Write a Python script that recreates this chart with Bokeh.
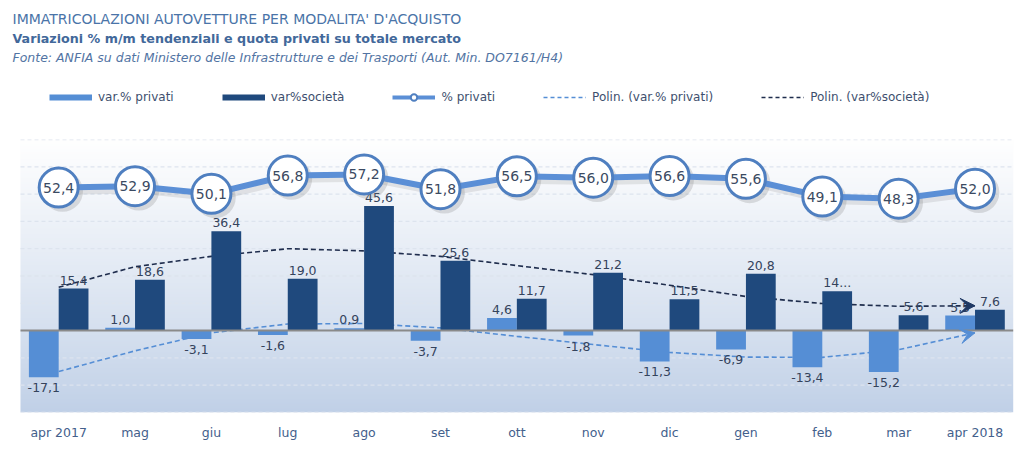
import numpy as np
from bokeh.plotting import figure
from bokeh.layouts import column
from bokeh.models import (ColumnDataSource, Range1d, FixedTicker, Label, Legend,
                          LegendItem, Arrow, VeeHead)
from bokeh.transform import dodge
from bokeh.core.properties import value
from bokeh.embed import file_html
from bokeh.resources import INLINE

# ---------------- data ----------------
categories = ["apr 2017", "mag", "giu", "lug", "ago", "set", "ott",
              "nov", "dic", "gen", "feb", "mar", "apr 2018"]
var_privati = [-17.1, 1.0, -3.1, -1.6, 0.9, -3.7, 4.6, -1.8, -11.3, -6.9, -13.4, -15.2, 5.5]
var_societa = [15.4, 18.6, 36.4, 19.0, 45.6, 25.6, 11.7, 21.2, 11.5, 20.8, 14.4, 5.6, 7.6]
quota_privati = [52.4, 52.9, 50.1, 56.8, 57.2, 51.8, 56.5, 56.0, 56.6, 55.6, 49.1, 48.3, 52.0]
# polynomial trend lines
trend_privati = [-15.0, -7.4, -0.8, 2.4, 2.6, 1.0, -2.1, -5.1, -8.0, -9.7, -9.8, -7.0, -0.8]
trend_societa = [15.9, 23.4, 27.2, 30.0, 29.2, 27.2, 23.8, 20.5, 16.6, 12.5, 9.9, 8.9, 9.1]
grid_values = [-30, -20, -10, 10, 20, 30, 40, 50, 60, 70]

title_txt = "IMMATRICOLAZIONI AUTOVETTURE PER MODALITA' D'ACQUISTO"
subtitle_txt = "Variazioni % m/m tendenziali e quota privati su totale mercato"
source_txt = "Fonte: ANFIA su dati Ministero delle Infrastrutture e dei Trasporti (Aut. Min. DO7161/H4)"
legend_labels = ["var.% privati", "var%società", "% privati",
                 "Polin. (var.% privati)", "Polin. (var%società)"]


def fmt(v):
    return f"{v:.1f}".replace(".", ",")


idx = list(range(len(categories)))
n = len(categories)
societa_labels = [fmt(v) for v in var_societa]
societa_labels[10] = "14..."
quota_labels = [fmt(v) for v in quota_privati]

C_LIGHT = "#558ED5"
C_DARK = "#1F497D"
C_TREND_DARK = "#1f2d4d"
C_LINE = "#5b8fd6"
C_RING = "#4f7fc0"
C_TEXT = "#34435c"
FONT = "DejaVu Sans"

W = 1015
HEAD_H = 139
PLOT_LEFT, PLOT_RIGHT = 20.0, 1012.7       # pixel extent of the category area
step = (PLOT_RIGHT - PLOT_LEFT) / n
x_lo = -0.5 - PLOT_LEFT / step
x_hi = n - 0.5 + (W - PLOT_RIGHT) / step

# ---------------- header (titles + legend) ----------------
head = figure(width=W, height=HEAD_H, x_range=Range1d(0, W), y_range=Range1d(HEAD_H, 0),
              output_backend="svg", toolbar_location=None,
              x_axis_location=None, y_axis_location=None,
              min_border_left=0, min_border_right=0, min_border_top=0, min_border_bottom=0)
head.outline_line_color = None
head.grid.visible = False
head.background_fill_color = "white"
head.border_fill_color = "white"

head.add_layout(Label(x=12, y=18, text=title_txt, text_baseline="middle", text_font=FONT,
                      text_font_size="14px", text_color="#4a74a8"))
head.add_layout(Label(x=12, y=38, text=subtitle_txt, text_baseline="middle", text_font=FONT,
                      text_font_size="12.7px", text_font_style="bold", text_color="#42689a"))
head.add_layout(Label(x=12, y=57, text=source_txt, text_baseline="middle", text_font=FONT,
                      text_font_size="12.5px", text_font_style="italic", text_color="#5274a3"))

nan = [float("nan")]
lg1 = head.line(nan, nan, line_color=C_LIGHT, line_width=6)
lg2 = head.line(nan, nan, line_color=C_DARK, line_width=6)
lg3a = head.line(nan, nan, line_color=C_LINE, line_width=4)
lg3b = head.scatter(nan, nan, marker="circle", size=8, fill_color="white", line_color=C_RING,
                    line_width=2)
lg4 = head.line(nan, nan, line_color=C_LIGHT, line_width=1.6, line_dash="4 3")
lg5 = head.line(nan, nan, line_color=C_TREND_DARK, line_width=1.6, line_dash="4 3")
legend = Legend(items=[LegendItem(label=legend_labels[0], renderers=[lg1]),
                       LegendItem(label=legend_labels[1], renderers=[lg2]),
                       LegendItem(label=legend_labels[2], renderers=[lg3a, lg3b]),
                       LegendItem(label=legend_labels[3], renderers=[lg4]),
                       LegendItem(label=legend_labels[4], renderers=[lg5])],
                orientation="horizontal", location=(49, 34), padding=0, spacing=48,
                glyph_width=43, glyph_height=16, label_height=16, label_standoff=6,
                border_line_color=None, background_fill_alpha=0, margin=0,
                label_text_font=FONT, label_text_font_size="12px",
                label_text_color="#3e4f6e")
head.add_layout(legend)

# ---------------- main chart ----------------
p = figure(width=W, height=311, x_range=Range1d(x_lo, x_hi), y_range=Range1d(-30, 70),
           output_backend="svg", toolbar_location=None,
           min_border_left=0, min_border_right=0, min_border_top=0, min_border_bottom=38)
p.outline_line_color = None
p.background_fill_color = "white"
p.border_fill_color = "white"
p.grid.visible = False

# background gradient (white at top -> light blue at bottom)
H = 273
t = np.linspace(0.0, 1.0, H)[:, None]  # 0 bottom, 1 top
bot = np.array([192, 208, 231], dtype=float)
top = np.array([255, 255, 255], dtype=float)
cols = bot + (top - bot) * (t ** 0.9)
img = np.empty((H, 1), dtype=np.uint32)
view = img.view(dtype=np.uint8).reshape((H, 1, 4))
view[:, 0, 0] = cols[:, 0]
view[:, 0, 1] = cols[:, 1]
view[:, 0, 2] = cols[:, 2]
view[:, 0, 3] = 255
p.image_rgba(image=[img], x=-0.5, y=-30, dw=n, dh=100, level="image")

# dashed horizontal gridlines limited to the category area
p.segment(x0=-0.5, x1=n - 0.5, y0=grid_values, y1=grid_values, line_color="#dde4ee",
          line_dash="4 3", line_width=1.3)

p.yaxis.visible = False
p.xaxis.ticker = FixedTicker(ticks=idx)
p.xaxis.major_label_overrides = {i: c for i, c in zip(idx, categories)}
p.xaxis.axis_line_color = None
p.xaxis.major_tick_line_color = None
p.xaxis.minor_tick_line_color = None
p.xaxis.major_label_standoff = 6
p.xaxis.major_label_text_font = FONT
p.xaxis.major_label_text_font_size = "12.5px"
p.xaxis.major_label_text_color = "#43608c"

src = ColumnDataSource(dict(x=idx, priv=var_privati, soc=var_societa, quota=quota_privati,
                            tp=trend_privati, ts=trend_societa,
                            soc_lbl=societa_labels, quota_lbl=quota_labels))

# trend lines (behind bars)
p.line(x="x", y="tp", source=src, line_color=C_LIGHT, line_width=1.6, line_dash="5 3")
p.line(x="x", y="ts", source=src, line_color=C_TREND_DARK, line_width=1.6, line_dash="5 3")

# bars
p.vbar(x=dodge("x", -0.195), top="priv", bottom=0, width=0.39, source=src,
       fill_color=C_LIGHT, line_color=None)
p.vbar(x=dodge("x", 0.195), top="soc", bottom=0, width=0.39, source=src,
       fill_color=C_DARK, line_color=None)

# zero line
p.segment(x0=-0.5, x1=n - 0.5, y0=0, y1=0, line_color="#8a8a8a", line_width=2)

# bar labels
pos = [i for i in idx if var_privati[i] >= 0]
neg = [i for i in idx if var_privati[i] < 0]
src_pos = ColumnDataSource(dict(x=pos, y=[var_privati[i] for i in pos],
                                t=[fmt(var_privati[i]) for i in pos]))
src_neg = ColumnDataSource(dict(x=neg, y=[var_privati[i] for i in neg],
                                t=[fmt(var_privati[i]) for i in neg]))
lbl_kw = dict(text_align="center", text_font=value(FONT), text_font_size="12.5px",
              text_color=C_TEXT)
p.text(x=dodge("x", -0.195), y="y", text="t", source=src_pos, text_baseline="bottom",
       y_offset=-4, **lbl_kw)
p.text(x=dodge("x", -0.195), y="y", text="t", source=src_neg, text_baseline="top",
       y_offset=6, **lbl_kw)
p.text(x=dodge("x", 0.195), y="soc", text="soc_lbl", source=src, text_baseline="bottom",
       y_offset=-4, **lbl_kw)

# arrow heads at the end of trend lines
p.add_layout(Arrow(end=VeeHead(size=15, fill_color=C_LIGHT, line_color=C_LIGHT),
                   x_start=idx[-2], y_start=trend_privati[-2],
                   x_end=idx[-1], y_end=trend_privati[-1], line_alpha=0))
p.add_layout(Arrow(end=VeeHead(size=15, fill_color="#1f3864", line_color="#1f3864"),
                   x_start=idx[-2], y_start=trend_societa[-2],
                   x_end=idx[-1], y_end=trend_societa[-1], line_alpha=0))

# % privati line with soft shadow
p.line(x=dodge("x", 0.05), y=dodge("quota", -1.4), source=src, line_color="#808080",
       line_alpha=0.18, line_width=7)
p.scatter(x=dodge("x", 0.05), y=dodge("quota", -1.4), source=src, size=41, marker="circle",
          fill_color="#707070", fill_alpha=0.22, line_color=None)
p.line(x="x", y="quota", source=src, line_color=C_LINE, line_width=6)
p.scatter(x="x", y="quota", source=src, size=39, marker="circle", fill_color="white",
          line_color=C_RING, line_width=3)
p.text(x="x", y="quota", text="quota_lbl", source=src, text_align="center",
       text_baseline="middle", text_font=value(FONT), text_font_size="14px",
       text_color="#3b4a62")

layout = column(head, p, spacing=0)
open("out.html", "w").write(file_html(layout, INLINE))
